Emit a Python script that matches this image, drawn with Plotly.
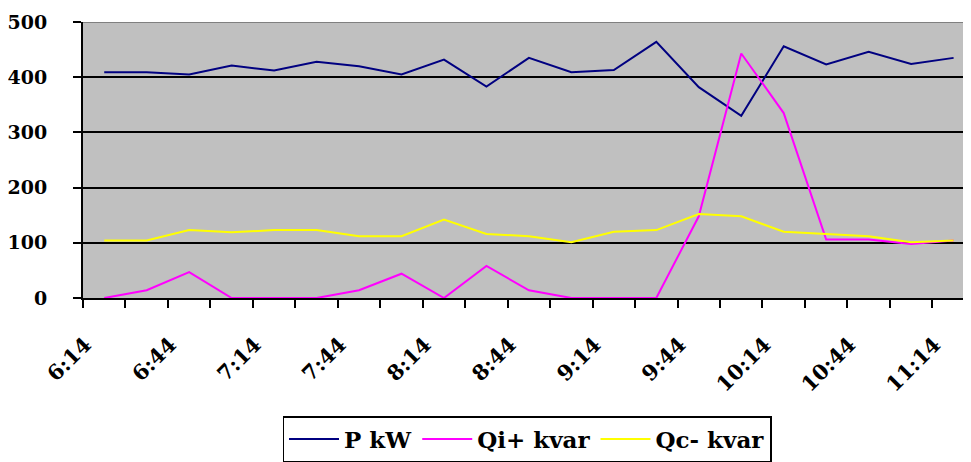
import plotly.graph_objects as go

times = ["6:14", "6:29", "6:44", "6:59", "7:14", "7:29", "7:44", "7:59", "8:14", "8:29",
         "8:44", "8:59", "9:14", "9:29", "9:44", "9:59", "10:14", "10:29", "10:44", "10:59", "11:14"]
p_kw = [409, 409, 405, 421, 412, 428, 420, 405, 432, 383,
        435, 409, 413, 464, 382, 330, 456, 423, 446, 424, 435]
qi_kvar = [0, 14, 47, 0, 0, 0, 14, 44, 0, 58,
           14, 0, 0, 0, 148, 443, 335, 106, 106, 98, 104]
qc_kvar = [104, 104, 123, 119, 123, 123, 112, 112, 142, 116,
           112, 101, 120, 123, 152, 148, 120, 116, 112, 101, 104]
label_idx = list(range(0, 21, 2))
tick_labels = [times[i] for i in label_idx]
y_ticks = [0, 100, 200, 300, 400, 500]

FONT = "DejaVu Serif"
x = list(range(len(times)))

fig = go.Figure()
fig.add_trace(go.Scatter(x=x, y=p_kw, mode="lines", name="P kW",
                         line=dict(color="#000080", width=2)))
fig.add_trace(go.Scatter(x=x, y=qi_kvar, mode="lines", name="Qi+ kvar",
                         line=dict(color="#FF00FF", width=2)))
fig.add_trace(go.Scatter(x=x, y=qc_kvar, mode="lines", name="Qc- kvar",
                         line=dict(color="#FFFF00", width=2)))

fig.add_shape(type="line", xref="paper", yref="y", x0=0, x1=1, y0=500, y1=500,
              line=dict(color="#808080", width=2), layer="above")

fig.update_layout(
    width=963, height=454,
    margin=dict(l=69, r=0, t=14, b=164),
    paper_bgcolor="white", plot_bgcolor="#C0C0C0",
    font=dict(family=FONT, size=21, color="black", weight="bold"),
    showlegend=True,
    legend=dict(orientation="h", x=0.5, xanchor="center", y=-0.43, yanchor="top",
                bordercolor="black", borderwidth=1.5, bgcolor="white", itemwidth=50,
                font=dict(family=FONT, size=23, color="black", weight="bold")),
    xaxis=dict(range=[-0.5, 20.41], tickmode="array",
               tickvals=[i - 0.45 for i in label_idx], ticktext=tick_labels,
               tickfont=dict(family=FONT, size=21, weight="bold"),
               tickangle=-45, ticks="", ticklabelstandoff=24,
               showline=True, linecolor="black", linewidth=2,
               showgrid=False, zeroline=False,
               minor=dict(tickmode="linear", tick0=-0.5, dtick=1, ticks="outside",
                          ticklen=8, tickwidth=2, tickcolor="black", showgrid=False)),
    yaxis=dict(range=[0, 500], tickmode="array", tickvals=y_ticks,
               tickfont=dict(family=FONT, size=19, weight="bold"),
               ticks="outside", ticklen=8, tickwidth=2, tickcolor="black",
               showline=True, linecolor="black", linewidth=2,
               showgrid=True, gridcolor="black", gridwidth=1.5,
               zeroline=False, ticklabelstandoff=22),
)

fig.write_html("out.html")
